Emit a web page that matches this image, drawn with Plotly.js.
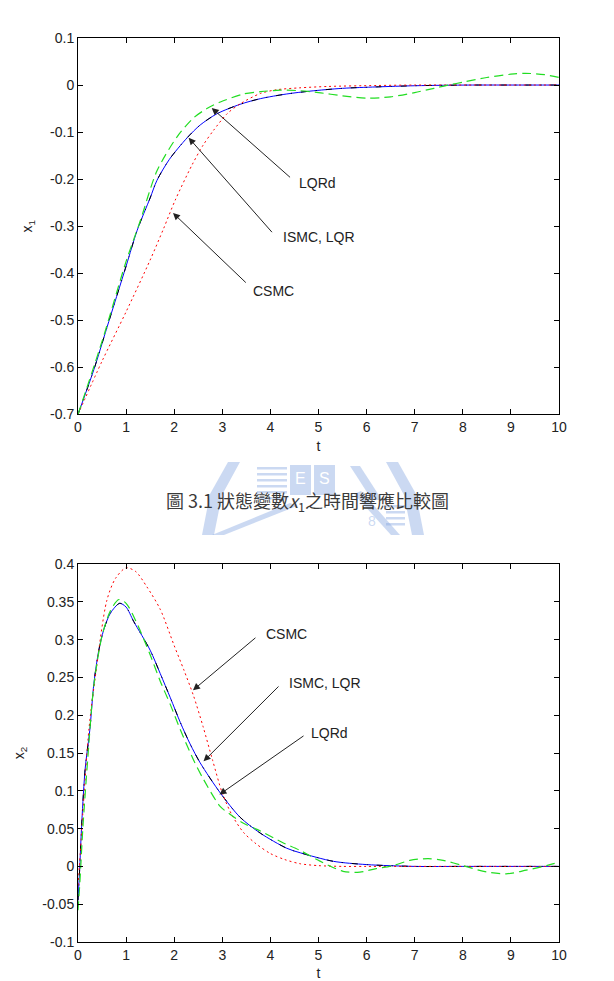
<!DOCTYPE html>
<html><head><meta charset="utf-8">
<script src="https://cdn.plot.ly/plotly-3.0.1.min.js"></script>
<style>html,body{margin:0;padding:0;background:#fff}#chart{width:614px;height:981px}</style>
</head><body><div id="chart"></div>
<script>
// ---------- data: state x1 ----------
const t1Lqr = [0,0.33,0.6,1.0,1.23,1.5,1.64,1.9,2.27,2.54,2.89,3.37,3.79,4.34,4.82,5.5,6.2,7.0,7.6,8.2,9,10];
const x1Lqr = [-0.7,-0.605,-0.516,-0.385,-0.309,-0.24,-0.203,-0.158,-0.112,-0.085,-0.061,-0.041,-0.029,-0.019,-0.013,-0.007,-0.004,-0.0015,-0.0005,0,0,0];
const t1Lqrd = [0,0.5,1.0,1.3,1.64,2.06,2.4,2.68,2.96,3.44,3.8,4.2,4.6,5.0,5.5,6.0,6.5,7.0,7.4,7.7,8.0,8.5,9.0,9.3,9.7,10];
const x1Lqrd = [-0.7,-0.545,-0.375,-0.287,-0.183,-0.11,-0.07,-0.05,-0.036,-0.019,-0.014,-0.011,-0.012,-0.016,-0.023,-0.028,-0.025,-0.016,-0.007,0,0.006,0.016,0.023,0.025,0.022,0.016];
const t1Csmc = [0,0.5,1.0,1.5,1.78,2.02,2.37,2.6,2.82,3.1,3.37,3.79,4.13,4.6,5.2,6.2,7,8,9,10];
const x1Csmc = [-0.7,-0.587,-0.482,-0.372,-0.305,-0.245,-0.17,-0.128,-0.096,-0.061,-0.040,-0.018,-0.010,-0.006,-0.003,-0.001,0,0,0,0];
// ---------- data: state x2 ----------
const t2Lqr = [0,0.03,0.08,0.15,0.245,0.33,0.43,0.535,0.674,0.867,1.0,1.158,1.5,1.71,1.92,2.13,2.33,2.54,2.96,3.37,3.79,4.34,4.62,5.31,6.0,7.0,8,9,10];
const x2Lqr = [-0.045,-0.01,0.06,0.13,0.18,0.242,0.285,0.313,0.335,0.348,0.343,0.324,0.286,0.255,0.223,0.19,0.162,0.137,0.097,0.065,0.044,0.024,0.018,0.0067,0.0024,0,0,0,0];
const t2Lqrd = [0,0.04,0.1,0.2,0.33,0.5,0.674,0.85,1.0,1.2,1.5,1.71,1.92,2.1,2.4,2.61,2.96,3.16,3.44,3.72,4.06,4.27,4.62,5.03,5.51,5.86,6.2,6.55,6.9,7.28,7.59,8.0,8.49,8.9,9.32,9.74,10];
const x2Lqrd = [-0.058,-0.02,0.05,0.14,0.24,0.305,0.338,0.353,0.348,0.325,0.28,0.245,0.214,0.185,0.141,0.115,0.079,0.069,0.057,0.049,0.038,0.031,0.021,0.007,-0.0065,-0.0075,-0.003,0.001,0.008,0.0103,0.008,0.001,-0.0073,-0.0099,-0.005,0.001,0.0055];
const t2Csmc = [0,0.05,0.1,0.225,0.36,0.6,0.78,1.0,1.2,1.43,1.71,2.0,2.2,2.4,2.6,2.8,3.0,3.2,3.44,3.7,4.0,4.3,4.62,5.0,5.5,6,7,8,9,10];
const x2Csmc = [-0.025,0.02,0.07,0.18,0.251,0.352,0.381,0.395,0.39,0.37,0.34,0.292,0.26,0.226,0.185,0.14,0.097,0.068,0.045,0.03,0.017,0.009,0.0035,0.001,0,0,0,0,0,0];
// ---------- ticks ----------
const xTickVals = [0,1,2,3,4,5,6,7,8,9,10];
const xTickText = ['0','1','2','3','4','5','6','7','8','9','10'];
const y1TickVals = [-0.7,-0.6,-0.5,-0.4,-0.3,-0.2,-0.1,0,0.1];
const y1TickText = ['-0.7','-0.6','-0.5','-0.4','-0.3','-0.2','-0.1','0','0.1'];
const y2TickVals = [-0.1,-0.05,0,0.05,0.1,0.15,0.2,0.25,0.3,0.35,0.4];
const y2TickText = ['-0.1','-0.05','0','0.05','0.1','0.15','0.2','0.25','0.3','0.35','0.4'];
const caption = '圖 3.1 狀態變數<i>x</i><sub>1</sub>之時間響應比較圖';

// ---------- layout geometry ----------
const W = 614, H = 981, ML = 78, MR = 55, MT = 38, MB = 39;
const PW = W - ML - MR, PH = H - MT - MB;
const px = x => (x - ML) / PW;
const py = y => (H - MB - y) / PH;

const FONT = 'Liberation Sans, Arial, sans-serif';
const TXT = '#222';

function line(x, y, xa, ya, color, dash, width, name) {
  return {type: 'scatter', mode: 'lines', x: x, y: y, xaxis: xa, yaxis: ya, name: name,
    line: {color: color, dash: dash, width: width, shape: 'spline', smoothing: 0.8}, hoverinfo: 'skip'};
}

const traces = [
  line(t1Lqr, x1Lqr, 'x', 'y', '#0000ff', 'solid', 1, 'ISMC'),
  line(t1Lqr, x1Lqr, 'x', 'y', '#000000', '6px,9px,1px,9px', 1, 'LQR'),
  line(t1Csmc, x1Csmc, 'x', 'y', '#ff0000', '2px,3px', 1, 'CSMC'),
  line(t1Lqrd, x1Lqrd, 'x', 'y', '#22dd22', '9px,5px', 1.2, 'LQRd'),
  line(t2Lqr, x2Lqr, 'x2', 'y2', '#0000ff', 'solid', 1, 'ISMC'),
  line(t2Lqr, x2Lqr, 'x2', 'y2', '#000000', '6px,9px,1px,9px', 1, 'LQR'),
  line(t2Csmc, x2Csmc, 'x2', 'y2', '#ff0000', '2px,3px', 1, 'CSMC'),
  line(t2Lqrd, x2Lqrd, 'x2', 'y2', '#22dd22', '9px,5px', 1.2, 'LQRd')
];

function xaxis(anchor, title) {
  return {anchor: anchor, domain: [0, 1], range: [0, 10], tickmode: 'array', tickvals: xTickVals, ticktext: xTickText,
    ticks: 'inside', ticklen: 5, tickcolor: '#000', showline: true, linecolor: '#000', linewidth: 1, mirror: 'ticks',
    showgrid: false, zeroline: false, tickfont: {family: FONT, size: 14, color: TXT},
    title: {text: title, font: {family: FONT, size: 14, color: TXT}, standoff: 7}};
}
function yaxis(anchor, dom, rng, vals, text, title) {
  return {anchor: anchor, domain: dom, range: rng, tickmode: 'array', tickvals: vals, ticktext: text,
    ticks: 'inside', ticklen: 5, tickcolor: '#000', showline: true, linecolor: '#000', linewidth: 1, mirror: 'ticks',
    showgrid: false, zeroline: false, tickfont: {family: FONT, size: 14, color: TXT},
    title: {text: title, font: {family: FONT, size: 14, color: TXT}, standoff: 14}};
}

function arrow(xr, yr, tipX, tipY, tailX, tailY) {
  return {xref: xr, yref: yr, axref: xr, ayref: yr, x: tipX, y: tipY, ax: tailX, ay: tailY, text: '',
    showarrow: true, arrowhead: 2, arrowsize: 1.4, arrowwidth: 1, arrowcolor: '#222'};
}
function label(xr, yr, x, y, text) {
  return {xref: xr, yref: yr, x: x, y: y, text: text, showarrow: false, xanchor: 'left', yanchor: 'middle',
    font: {family: FONT, size: 14, color: TXT}};
}

// faint watermark emblem in the gap between the two figures (decoration)
const WM = 'rgba(130,165,225,0.42)';
function pth(pts) { return 'M' + pts.map(p => px(p[0]) + ',' + py(p[1])).join(' L') + ' Z'; }
function poly(pts) { return {type: 'path', xref: 'paper', yref: 'paper', path: pth(pts), fillcolor: WM, line: {width: 0}, layer: 'below'}; }
function rect(x0, y0, x1, y1) { return {type: 'rect', xref: 'paper', yref: 'paper', x0: px(x0), x1: px(x1), y0: py(y1), y1: py(y0), fillcolor: WM, line: {width: 0}, layer: 'below'}; }
const shapes = [
  poly([[228,462],[240,462],[222,495],[214,535],[202,535],[210,494]]),
  poly([[386,462],[398,462],[416,494],[424,535],[412,535],[404,495]]),
  rect(290, 465, 311, 495), rect(314, 465, 335, 495),
  poly([[350,466],[360,466],[382,500],[372,500]]),
  poly([[290,503],[297,506],[224,535],[212,535]]),
  poly([[354,494],[361,491],[400,535],[391,535]])
];
for (let k = 0; k < 6; k++) shapes.push(rect(257, 467 + k * 6, 287, 469.5 + k * 6));
for (let k = 0; k < 4; k++) shapes.push(rect(386, 505 + k * 6, 405, 507.5 + k * 6));

const annotations = [
  {xref: 'paper', yref: 'paper', x: px(300.5), y: py(478), text: 'E', showarrow: false, font: {family: FONT, size: 16, color: '#ffffff'}},
  {xref: 'paper', yref: 'paper', x: px(324.5), y: py(478), text: 'S', showarrow: false, font: {family: FONT, size: 16, color: '#ffffff'}},
  {xref: 'paper', yref: 'paper', x: px(372), y: py(521), text: '8', showarrow: false, font: {family: FONT, size: 14, color: WM}},
  arrow('x', 'y', 2.78, -0.049, 4.44, -0.199), label('x', 'y', 4.56, -0.209, 'LQRd'),
  arrow('x', 'y', 2.30, -0.112, 4.06, -0.316), label('x', 'y', 4.22, -0.324, 'ISMC, LQR'),
  arrow('x', 'y', 1.975, -0.272, 3.52, -0.423), label('x', 'y', 3.59, -0.438, 'CSMC'),
  arrow('x2', 'y2', 2.39, 0.233, 3.72, 0.304), label('x2', 'y2', 3.87, 0.307, 'CSMC'),
  arrow('x2', 'y2', 2.61, 0.139, 4.2, 0.240), label('x2', 'y2', 4.35, 0.243, 'ISMC, LQR'),
  arrow('x2', 'y2', 2.94, 0.095, 4.72, 0.174), label('x2', 'y2', 4.80, 0.176, 'LQRd'),
  {xref: 'paper', yref: 'paper', x: px(307), y: py(501), text: caption, showarrow: false,
    xanchor: 'center', yanchor: 'middle', font: {family: 'Noto Sans CJK TC, serif', size: 18, color: '#3a3a3a'}}
];

const layout = {
  width: W, height: H, margin: {l: ML, r: MR, t: MT, b: MB},
  paper_bgcolor: '#fff', plot_bgcolor: '#fff', showlegend: false,
  xaxis: xaxis('y', 't'),
  yaxis: yaxis('x', [py(414.3), 1], [-0.7, 0.1], y1TickVals, y1TickText, 'x<sub>1</sub>'),
  xaxis2: xaxis('y2', 't'),
  yaxis2: yaxis('x2', [0, py(564)], [-0.1, 0.4], y2TickVals, y2TickText, 'x<sub>2</sub>'),
  annotations: annotations, shapes: shapes
};
Plotly.newPlot('chart', traces, layout, {displayModeBar: false, staticPlot: true});
</script></body></html>
